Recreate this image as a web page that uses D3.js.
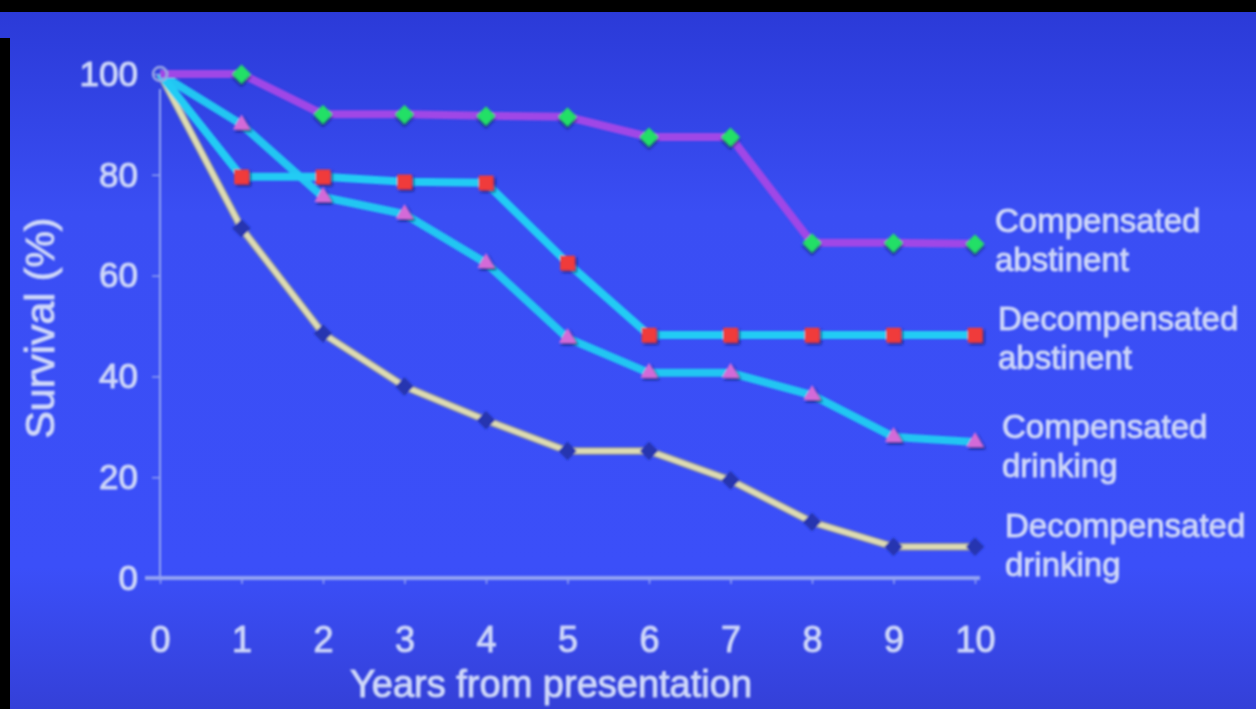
<!DOCTYPE html>
<html lang="en">
<head>
  <meta charset="UTF-8">
  <style>
    body { margin: 0; background: #000; }
    svg { display: block; font-family: "Liberation Sans", Arial, sans-serif; }
    .txt { fill: #d2dafa; stroke: #c4cef6; stroke-width: 1.1px; }
    .axis path, .axis line { stroke: #93a3f2; }
  </style>
</head>
<body>
  <svg class="chart"></svg>
  <script src="https://cdnjs.cloudflare.com/ajax/libs/d3/7.8.5/d3.min.js"></script>
  <script>
    const years = [0, 1, 2, 3, 4, 5, 6, 7, 8, 9, 10]
    const compAbstinent = [100, 100, 92, 92, 91.7, 91.5, 87.5, 87.5, 66.5, 66.5, 66.3]
    const decompAbstinent = [100, 79.6, 79.6, 78.6, 78.4, 62.5, 48.2, 48.2, 48.2, 48.2, 48.2]
    const compDrinking = [100, 90, 75.6, 72.2, 62.5, 47.6, 40.7, 40.7, 36.3, 28, 27]
    const decompDrinking = [100, 69.4, 48.5, 38, 31.3, 25.2, 25.2, 19.4, 11.1, 6.2, 6.2]
    const yTicks = [0, 20, 40, 60, 80, 100]
    const xLabel = 'Years from presentation'
    const yLabel = 'Survival (%)'
    const seriesLabels = [
      ['Compensated', 'abstinent'],
      ['Decompensated', 'abstinent'],
      ['Compensated', 'drinking'],
      ['Decompensated', 'drinking']
    ]

    const chart = { width: 1256, height: 709 }

    const xScale = d3.scaleLinear().domain([0, 10]).range([160, 975])
    const yScale = d3.scaleLinear().domain([0, 100]).range([578, 74])

    const svg = d3.select('.chart')
      .attr('width', chart.width)
      .attr('height', chart.height)

    const defs = svg.append('defs')
    const grad = defs.append('linearGradient')
      .attr('id', 'bg').attr('x1', 0).attr('y1', 0).attr('x2', 0).attr('y2', 1)
    grad.append('stop').attr('offset', '0%').attr('stop-color', '#2a39d6')
    grad.append('stop').attr('offset', '30%').attr('stop-color', '#3a4ef4')
    grad.append('stop').attr('offset', '80%').attr('stop-color', '#3b4ff9')
    grad.append('stop').attr('offset', '100%').attr('stop-color', '#3440d8')

    const soft = defs.append('filter').attr('id', 'soft')
      .attr('x', '-5%').attr('y', '-5%').attr('width', '110%').attr('height', '110%')
    soft.append('feGaussianBlur').attr('stdDeviation', 1)

    const shadow = defs.append('filter').attr('id', 'shadow')
      .attr('x', '-50%').attr('y', '-50%').attr('width', '200%').attr('height', '200%')
    shadow.append('feDropShadow').attr('dx', 2).attr('dy', 2)
      .attr('stdDeviation', 1.2).attr('flood-color', '#0c1250').attr('flood-opacity', 0.8)

    // background + photo borders
    svg.append('rect').attr('width', chart.width).attr('height', chart.height).attr('fill', 'url(#bg)')
    svg.append('rect').attr('width', chart.width).attr('height', 12).attr('fill', '#000')
    svg.append('rect').attr('y', 38).attr('width', 10).attr('height', chart.height - 38).attr('fill', '#000')

    const g = svg.append('g').attr('filter', 'url(#soft)')

    // axes
    const yAxis = d3.axisLeft(yScale).tickValues(yTicks).tickSize(8).tickPadding(14)
    const yg = g.append('g').attr('class', 'axis')
      .attr('transform', `translate(${xScale(0)},0)`)
      .call(yAxis)
    yg.select('.domain').remove()
    yg.append('line')
      .attr('y1', yScale(0)).attr('y2', yScale(97))
      .attr('stroke-width', 2)
    yg.selectAll('.tick line').attr('stroke-width', 1.5)
    yg.selectAll('.tick text')
      .attr('class', 'txt').attr('fill', null)
      .style('font-size', '35px')

    const xAxis = d3.axisBottom(xScale).tickValues(years).tickSize(6).tickPadding(42).tickSizeOuter(0)
    const xg = g.append('g').attr('class', 'axis')
      .attr('transform', `translate(0,${yScale(0)})`)
      .call(xAxis)
    xg.select('.domain').attr('d', `M${xScale(0) - 15},0H${xScale(10) + 5}`).attr('stroke-width', 4)
    xg.selectAll('.tick line').attr('stroke-width', 1.5)
    xg.selectAll('.tick text')
      .attr('class', 'txt').attr('fill', null)
      .style('font-size', '36px')

    g.append('text').attr('class', 'txt')
      .attr('x', 551).attr('y', 697)
      .attr('text-anchor', 'middle')
      .style('font-size', '38px')
      .text(xLabel)

    g.append('text').attr('class', 'txt')
      .attr('transform', 'translate(54,328) rotate(-90)')
      .attr('text-anchor', 'middle')
      .style('font-size', '41px')
      .text(yLabel)

    const line = d3.line().x((d, i) => xScale(years[i])).y(d => yScale(d))

    // decompensated drinking: pale line broken by dark diamonds
    g.append('path').datum(decompDrinking)
      .attr('d', line).attr('fill', 'none')
      .attr('stroke', '#8a8ea6').attr('stroke-width', 8)
    g.append('path').datum(decompDrinking)
      .attr('d', line).attr('fill', 'none')
      .attr('stroke', '#dedcb2').attr('stroke-width', 5)
    g.selectAll('.dd').data(decompDrinking.slice(1)).enter().append('path')
      .attr('class', 'dd')
      .attr('d', d3.symbol(d3.symbolSquare, 170))
      .attr('transform', (d, i) => `translate(${xScale(years[i + 1])},${yScale(d)}) rotate(45)`)
      .attr('fill', '#2535b0')

    // compensated drinking
    g.append('path').datum(compDrinking)
      .attr('d', line).attr('fill', 'none')
      .attr('stroke', '#22c6f2').attr('stroke-width', 8)
      .attr('stroke-linejoin', 'round')
    // decompensated abstinent
    g.append('path').datum(decompAbstinent)
      .attr('d', line).attr('fill', 'none')
      .attr('stroke', '#22ccf4').attr('stroke-width', 8)
      .attr('stroke-linejoin', 'round')
    // compensated abstinent
    g.append('path').datum(compAbstinent)
      .attr('d', line).attr('fill', 'none')
      .attr('stroke', '#a046e6').attr('stroke-width', 8)
      .attr('stroke-linejoin', 'round')

    g.selectAll('.tri').data(compDrinking.slice(1)).enter().append('path')
      .attr('class', 'tri')
      .attr('d', d3.symbol(d3.symbolTriangle, 130))
      .attr('transform', (d, i) => `translate(${xScale(years[i + 1])},${yScale(d)})`)
      .attr('fill', '#d46ad8')
      .attr('filter', 'url(#shadow)')

    g.selectAll('.sq').data(decompAbstinent.slice(1)).enter().append('path')
      .attr('class', 'sq')
      .attr('d', d3.symbol(d3.symbolSquare, 215))
      .attr('transform', (d, i) => `translate(${xScale(years[i + 1])},${yScale(d)})`)
      .attr('fill', '#f03a3a')
      .attr('filter', 'url(#shadow)')

    g.selectAll('.dia').data(compAbstinent.slice(1)).enter().append('path')
      .attr('class', 'dia')
      .attr('d', d3.symbol(d3.symbolSquare, 180))
      .attr('transform', (d, i) => `translate(${xScale(years[i + 1])},${yScale(d)}) rotate(45)`)
      .attr('fill', '#22e066')
      .attr('filter', 'url(#shadow)')

    // common start point
    g.append('circle')
      .attr('cx', xScale(0)).attr('cy', yScale(100)).attr('r', 7)
      .attr('fill', 'none').attr('stroke', '#9aa6e4').attr('stroke-width', 2.5)

    // series labels at right
    const labelPos = [[995, 232], [998, 330], [1002, 438], [1005, 537]]
    seriesLabels.forEach((lines, i) => {
      const t = g.append('text').attr('class', 'txt')
        .attr('x', labelPos[i][0]).attr('y', labelPos[i][1])
        .style('font-size', '33px')
      lines.forEach((s, j) => {
        t.append('tspan').attr('x', labelPos[i][0]).attr('dy', j ? 39 : 0).text(s)
      })
    })
  </script>
</body>
</html>
